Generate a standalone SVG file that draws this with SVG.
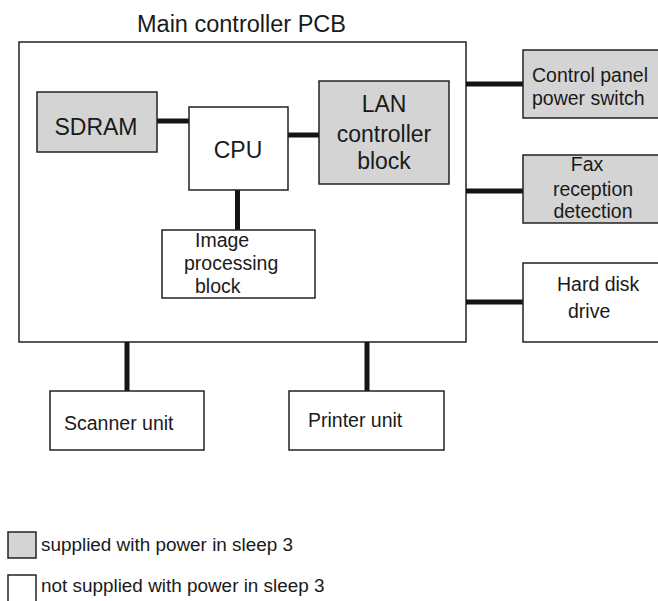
<svg xmlns="http://www.w3.org/2000/svg" width="658" height="601" viewBox="0 0 658 601">
<style>
  .box{fill:#ffffff;stroke:#222222;stroke-width:1.5}
  .on{fill:#d4d4d4;stroke:#222222;stroke-width:1.5}
  .t{font-family:"Liberation Sans",Arial,sans-serif;fill:#1a1a1a}
  .big{font-size:23px}
  .sm{font-size:19.5px}
  .conn line{stroke:#141414;stroke-width:5}
</style>
<rect width="658" height="601" fill="#ffffff"/>
<g id="pcb">
  <rect class="box" x="19" y="42" width="447" height="300"/>
  <text class="t" x="137" y="32" style="font-size:23.5px">Main controller PCB</text>
</g>
<g class="conn" id="connectors">
  <line x1="157" y1="121" x2="189" y2="121"/>
  <line x1="288" y1="135" x2="319" y2="135"/>
  <line x1="237.5" y1="190" x2="237.5" y2="230"/>
  <line x1="466" y1="84" x2="523" y2="84"/>
  <line x1="466" y1="191" x2="523" y2="191"/>
  <line x1="466" y1="302" x2="523" y2="302"/>
  <line x1="127" y1="342" x2="127" y2="391"/>
  <line x1="367" y1="342" x2="367" y2="391"/>
</g>
<g id="sdram">
  <rect class="on" x="37" y="92" width="120" height="60"/>
  <text class="t big" x="96" y="135" text-anchor="middle">SDRAM</text>
</g>
<g id="cpu">
  <rect class="box" x="189" y="107" width="99" height="83"/>
  <text class="t big" x="238" y="158" text-anchor="middle">CPU</text>
</g>
<g id="lan">
  <rect class="on" x="319" y="81" width="130" height="103"/>
  <text class="t big" x="384" y="112" text-anchor="middle">LAN</text>
  <text class="t big" x="384" y="142" text-anchor="middle">controller</text>
  <text class="t big" x="384" y="169" text-anchor="middle">block</text>
</g>
<g id="image">
  <rect class="box" x="162" y="230" width="153" height="68"/>
  <text class="t sm" x="195" y="247">Image</text>
  <text class="t sm" x="184" y="270">processing</text>
  <text class="t sm" x="195" y="293">block</text>
</g>
<g id="control">
  <rect class="on" x="523" y="50" width="140" height="68"/>
  <text class="t sm" x="532" y="82">Control panel</text>
  <text class="t sm" x="532" y="105">power switch</text>
</g>
<g id="fax">
  <rect class="on" x="523" y="155" width="140" height="68"/>
  <text class="t sm" x="587" y="171" text-anchor="middle">Fax</text>
  <text class="t sm" x="593" y="196" text-anchor="middle">reception</text>
  <text class="t sm" x="593" y="218" text-anchor="middle">detection</text>
</g>
<g id="hdd">
  <rect class="box" x="523" y="263" width="140" height="79"/>
  <text class="t sm" x="557" y="291">Hard disk</text>
  <text class="t sm" x="568" y="318">drive</text>
</g>
<g id="scanner">
  <rect class="box" x="50" y="391" width="154" height="59"/>
  <text class="t sm" x="64" y="430">Scanner unit</text>
</g>
<g id="printer">
  <rect class="box" x="289" y="391" width="155" height="59"/>
  <text class="t sm" x="308" y="427">Printer unit</text>
</g>
<g id="legend">
  <rect class="on" x="8" y="532" width="28" height="26"/>
  <text class="t" x="41" y="551" style="font-size:18.9px">supplied with power in sleep 3</text>
  <rect class="box" x="8" y="575" width="28" height="30"/>
  <text class="t" x="41" y="592" style="font-size:18.9px">not supplied with power in sleep 3</text>
</g>
</svg>
